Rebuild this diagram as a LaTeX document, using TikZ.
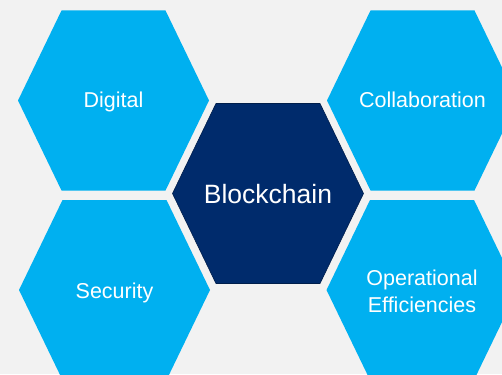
\documentclass[tikz,border=0pt]{standalone}
\usepackage{fontspec}
\setmainfont{Liberation Sans}
\definecolor{skyblue}{HTML}{00B0F0}
\definecolor{navyblue}{HTML}{002B6C}
\definecolor{paper}{HTML}{F2F2F2}
\tikzset{
  hexpath/.style={fill=#1},
  lbl/.style={text=white, inner sep=0pt, font=\fontsize{21.5}{26}\selectfont},
  biglbl/.style={text=white, inner sep=0pt, font=\fontsize{26.5}{31}\selectfont}
}
\begin{document}
\begin{tikzpicture}[x=1pt,y=-1pt]
    \fill[paper] (0,0) rectangle (502,374);
    \useasboundingbox (0,0) rectangle (502,374);
    \clip (0,0) rectangle (502,374);

    \coordinate (dig) at (113.5,100.5); \coordinate (col) at (422.5,100.5);
    \coordinate (sec) at (114.5,290);   \coordinate (ope) at (422,290);
    \coordinate (blk) at (268,193.5);

    \foreach \c/\col in {dig/skyblue,col/skyblue,sec/skyblue,ope/skyblue,blk/navyblue}
        \fill[hexpath=\col, shift={(\c)}] (-52,-90) -- (52,-90) -- (95.5,0) -- (52,90) -- (-52,90) -- (-95.5,0) -- cycle;
    \draw[navyblue!70!black, line width=0.6pt, shift={(blk)}] (-52,-90) -- (52,-90) -- (95.5,0) -- (52,90) -- (-52,90) -- (-95.5,0) -- cycle;

    \node[lbl, anchor=base, yshift=-7.5pt] (digital) at (dig) {Digital};
    \node[lbl, anchor=base, yshift=-7.5pt] (collab) at (col) {Collaboration};
    \node[lbl, anchor=base, yshift=-8pt] (security) at (sec) {Security};
    \node[lbl, align=center, yshift=-1.5pt, font=\fontsize{21.5}{26.5}\selectfont] (opeff) at (ope) {Operational\\Efficiencies};
    \node[biglbl, anchor=base, yshift=-9.5pt] (blockchain) at (blk) {Blockchain};
\end{tikzpicture}
\end{document}
